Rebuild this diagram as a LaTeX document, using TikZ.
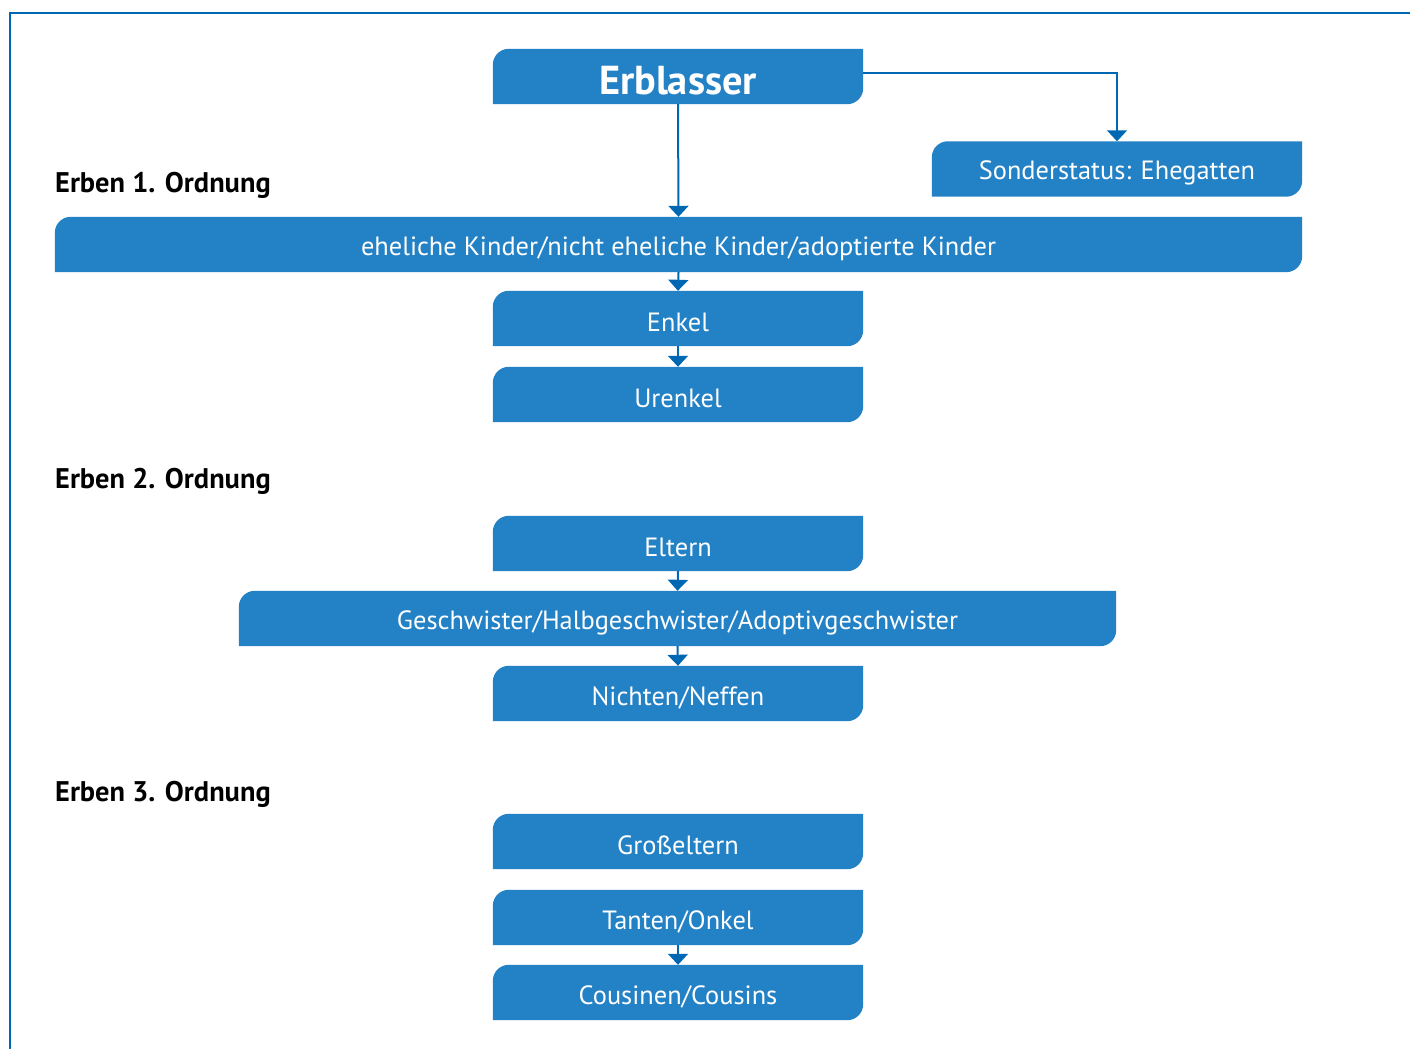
\documentclass[tikz,border=0pt]{standalone}
\usepackage{fontspec}
\setmainfont{PT Sans}
\usetikzlibrary{arrows.meta,backgrounds}
\definecolor{boxblue}{HTML}{2381C5}
\definecolor{linkblue}{HTML}{0067B3}
\newcommand\boxshape[1]{%
  \fill[boxblue] ([yshift=-16pt]#1.north west) arc[start angle=180,end angle=90,radius=16pt]
    -- (#1.north east) -- ([yshift=16pt]#1.south east) arc[start angle=0,end angle=-90,radius=16pt]
    -- (#1.south west) -- cycle;}
\tikzset{
  blbox/.style={inner sep=0pt, minimum height=55pt, text=white, font=\fontsize{26.4}{30}\selectfont},
  bltext/.style={inner sep=0pt, text=white, font=\fontsize{26.4}{30}\selectfont},
  lvl/.style={anchor=west, inner sep=0pt, font=\fontsize{28.4}{32}\selectfont\bfseries},
  link/.style={draw=linkblue, line width=2pt, -{Triangle[width=20pt,length=11pt]}},
}
\begin{document}
\begin{tikzpicture}[x=1pt,y=1pt]
\useasboundingbox (0,0) rectangle (1410,1049);
\draw[linkblue, line width=2.5pt] (1410,1036) -- (10,1036) -- (10,0);
% boxes (y = 1049 - ypx)
\node[blbox, minimum width=370pt] (erb) at (678,972.5) {};
\node[blbox, minimum width=370pt] (son) at (1117,880) {};
\node[blbox, minimum width=1247pt] (kin) at (678.5,804.5) {};
\node[blbox, minimum width=370pt] (enk) at (678,730.5) {};
\node[blbox, minimum width=370pt] (ure) at (678,654.5) {};
\node[blbox, minimum width=370pt] (elt) at (678,505.5) {};
\node[blbox, minimum width=877pt] (ges) at (677.5,430.5) {};
\node[blbox, minimum width=370pt] (nic) at (678,355.5) {};
\node[blbox, minimum width=370pt] (gro) at (678,207.5) {};
\node[blbox, minimum width=370pt] (tan) at (678,131.5) {};
\node[blbox, minimum width=370pt] (cou) at (678,56.5) {};
% texts
\node[bltext, font=\fontsize{40.4}{44}\selectfont\bfseries] (terb) at ([yshift=-4pt]erb.center) {Erblasser};
\node[bltext] (tson) at ([yshift=-4pt]son.center) {Sonderstatus: Ehegatten};
\node[bltext] (tkin) at ([yshift=-4pt]kin.center) {eheliche Kinder/nicht eheliche Kinder/adoptierte Kinder};
\node[bltext] (tenk) at ([yshift=-4pt]enk.center) {Enkel};
\node[bltext] (ture) at ([yshift=-4pt]ure.center) {Urenkel};
\node[bltext] (telt) at ([yshift=-4pt]elt.center) {Eltern};
\node[bltext] (tges) at ([yshift=-4pt]ges.center) {Geschwister/Halbgeschwister/Adoptivgeschwister};
\node[bltext] (tnic) at ([yshift=-4pt]nic.center) {Nichten/Neffen};
\node[bltext] (tgro) at ([yshift=-4pt]gro.center) {Großeltern};
\node[bltext] (ttan) at ([yshift=-4pt]tan.center) {Tanten/Onkel};
\node[bltext] (tcou) at ([yshift=-4pt]cou.center) {Cousinen/Cousins};
% level labels
\node[lvl] (l1) at (55,864) {Erben 1. Ordnung};
\node[lvl] (l2) at (55,568) {Erben 2. Ordnung};
\node[lvl] (l3) at (55,255) {Erben 3. Ordnung};
\begin{scope}[on background layer]
\foreach \n in {erb,son,kin,enk,ure,elt,ges,nic,gro,tan,cou}{\boxshape{\n}}
\end{scope}
% connectors
\draw[link] (erb.south) -- (kin.north);
\draw[link] ([yshift=3pt]erb.east) -| (son.north);
\draw[link] (kin.south) -- (enk.north);
\draw[link] (enk.south) -- (ure.north);
\draw[link] (elt.south) -- (ges.north);
\draw[link] (ges.south) -- (nic.north);
\draw[link] (tan.south) -- (cou.north);
\end{tikzpicture}
\end{document}
